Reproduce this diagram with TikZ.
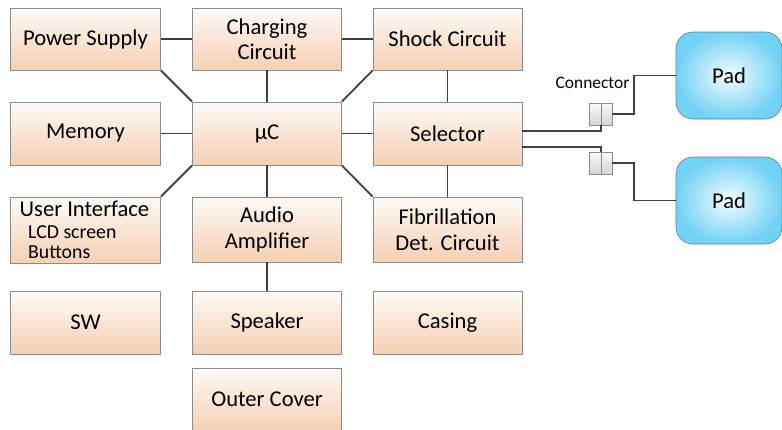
\documentclass[tikz,border=0pt]{standalone}
\usepackage{fontspec}
\setmainfont{Carlito}
\usetikzlibrary{shadings}
\definecolor{boxtop}{HTML}{FEFAF6}
\definecolor{boxbot}{HTML}{F5CFB3}
\definecolor{boxline}{HTML}{8C8C8C}
\definecolor{wirec}{HTML}{404040}
\definecolor{padin}{HTML}{F4FCFF}
\definecolor{padout}{HTML}{72D2F5}
\definecolor{padline}{HTML}{5E7E94}
\definecolor{conntop}{HTML}{FAFAFA}
\definecolor{connbot}{HTML}{D4D4D4}
\begin{document}
\begin{tikzpicture}[x=1pt,y=-1pt,
  blk/.style={draw=boxline, line width=0.8pt, top color=boxtop, bottom color=boxbot,
    minimum width=149pt, minimum height=63pt, inner sep=0pt, align=center,
    font=\fontsize{22.6}{25.5}\selectfont},
  padbox/.style={draw=padline, line width=0.6pt, rounded corners=17pt, shading=radial,
    inner color=padin, outer color=padout, minimum width=106pt, minimum height=87pt,
    inner sep=0pt, font=\fontsize{22.6}{25.5}\selectfont},
  conn/.style={draw=boxline, line width=0.7pt, top color=conntop, bottom color=connbot,
    minimum height=22pt, inner sep=0pt},
  wire/.style={draw=wirec, line width=1.8pt},
  lbl/.style={inner sep=0pt}]
\clip (0,0) rectangle (782,429);
\fill[white] (0,0) rectangle (782,429);
% boxes
\node[blk, minimum width=150pt, minimum height=62pt] (ps) at (85.5,39) {Power Supply};
\node[blk, minimum height=62pt] (cc) at (267,39) {Charging\\Circuit};
\node[blk, minimum height=62pt] (sc) at (447.5,39) {Shock Circuit};
\node[blk, minimum width=150pt] (mem) at (85.5,133.5) {Memory};
\node[blk] (mc) at (267,133.5) {µC};
\node[blk] (sel) at (447.5,133.5) {Selector};
\node[blk, minimum width=150pt, minimum height=66pt] (ui) at (85.5,230) {};
\node[blk, minimum height=65pt] (aa) at (267,229.5) {Audio\\Amplifier};
\node[blk, minimum height=65pt] (fd) at (447.5,229.5) {Fibrillation\\Det. Circuit};
\node[blk, minimum width=150pt] (sw) at (85.5,322.5) {SW};
\node[blk] (sp) at (267,322.5) {Speaker};
\node[blk] (cas) at (447.5,322.5) {Casing};
\node[blk] (oc) at (267,399.5) {Outer Cover};
% user interface text
\node[lbl, anchor=base west, font=\fontsize{22.6}{25}\selectfont] (uit1) at (19.5,216.5) {User Interface};
\node[lbl, anchor=base west, font=\fontsize{19.8}{22}\selectfont] (uit2) at (28,238) {LCD screen};
\node[lbl, anchor=base west, font=\fontsize{19.8}{22}\selectfont] (uit3) at (28,258.5) {Buttons};
% box connectors
\draw[wire] (ps.east) -- (cc.west);
\draw[wire] (cc.east) -- (sc.west);
\draw[wire] (cc.south) -- (mc.north);
\draw[wire] (sc.south) -- (sel.north);
\draw[wire] (mem.east) -- (mc.west);
\draw[wire] (mc.east) -- (sel.west);
\draw[wire] (ps.south east) -- (mc.north west);
\draw[wire] (sc.south west) -- (mc.north east);
\draw[wire] (ui.north east) -- (mc.south west);
\draw[wire] (fd.north west) -- (mc.south east);
\draw[wire] (mc.south) -- (aa.north);
\draw[wire] (sel.south) -- (fd.north);
\draw[wire] (aa.south) -- (sp.north);
% pads
\node[padbox] (pad1) at (729,75.5) {Pad};
\node[padbox] (pad2) at (729,200.5) {Pad};
% plug connectors
\node[conn, minimum width=12pt] (k1l) at (595,114) {};
\node[conn, minimum width=11pt] (k1r) at (606.5,114) {};
\node[conn, minimum width=12pt] (k2l) at (595,163) {};
\node[conn, minimum width=11pt] (k2r) at (606.5,163) {};
\node[lbl, font=\fontsize{17.4}{20}\selectfont] (clab) at (592.5,83) {Connector};
\coordinate (s1) at (522,131);
\coordinate (s2) at (522,147);
\draw[wire] (s1) -| (k1l.south east);
\draw[wire] (s2) -| (k2l.north east);
\draw[wire] (k1r.east) -- ++(22,0) |- (pad1.west);
\draw[wire] (k2r.east) -- ++(22,0) |- (pad2.west);
\end{tikzpicture}
\end{document}
